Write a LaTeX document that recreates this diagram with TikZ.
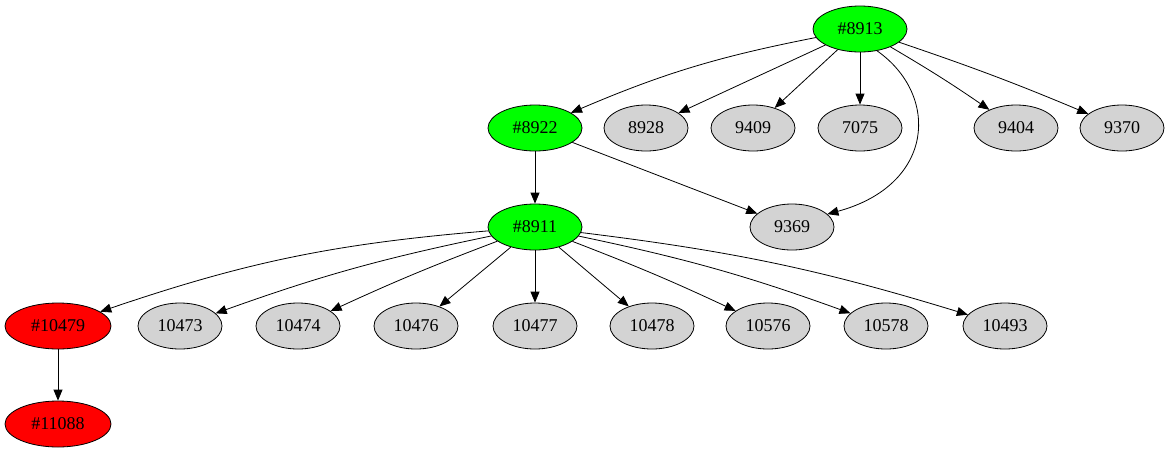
\documentclass[tikz,border=0pt]{standalone}
\usepackage{fontspec}
\setmainfont{Liberation Serif}
\usetikzlibrary{shapes.geometric,arrows.meta}
\tikzset{
  gnode/.style={ellipse,draw=black,line width=0.8pt,inner sep=0pt,minimum height=46pt,font=\fontsize{18}{21}\selectfont},
  gray/.style={gnode,fill={rgb,255:red,211;green,211;blue,211},minimum width=84pt},
  grn/.style={gnode,fill={rgb,255:red,0;green,255;blue,0},minimum width=94pt},
  rd/.style={gnode,fill={rgb,255:red,255;green,0;blue,0},minimum width=106pt},
  edge/.style={draw=black,line width=0.8pt,-{Triangle[length=11pt,width=9pt]}}
}
\begin{document}
\begin{tikzpicture}[x=1pt,y=-1pt]
\useasboundingbox (0,0) rectangle (1171,456);
\node[grn] (a8913) at (860,29) {\#8913};
\node[grn] (a8922) at (535,128) {\#8922};
\node[gray] (a8928) at (646,128) {8928};
\node[gray] (a9409) at (753,128) {9409};
\node[gray] (a7075) at (860,128) {7075};
\node[gray] (a9404) at (1016,128) {9404};
\node[gray] (a9370) at (1122,128) {9370};
\node[grn] (a8911) at (535,227) {\#8911};
\node[gray] (a9369) at (792,227) {9369};
\node[rd] (a10479) at (58,326) {\#10479};
\node[gray] (a10473) at (180,326) {10473};
\node[gray] (a10474) at (298,326) {10474};
\node[gray] (a10476) at (416,326) {10476};
\node[gray] (a10477) at (535,326) {10477};
\node[gray] (a10478) at (652,326) {10478};
\node[gray] (a10576) at (768,326) {10576};
\node[gray] (a10578) at (886,326) {10578};
\node[gray] (a10493) at (1005,326) {10493};
\node[rd] (a11088) at (58,424) {\#11088};

\draw[edge] (a8913) to[bend right=6] (a8922);
\draw[edge] (a8913) -- (a8928);
\draw[edge] (a8913) -- (a9409);
\draw[edge] (a8913) -- (a7075);
\draw[edge] (a8913.-52) .. controls (940,95) and (935,185) .. (a9369.20);
\draw[edge] (a8913) to[bend left=2] (a9404);
\draw[edge] (a8913) to[bend left=2] (a9370);
\draw[edge] (a8922) -- (a8911);
\draw[edge] (a8922) -- (a9369);
\draw[edge] (a8911) to[bend right=7] (a10479);
\draw[edge] (a8911) to[bend right=4] (a10473);
\draw[edge] (a8911) to[bend right=2] (a10474);
\draw[edge] (a8911) -- (a10476);
\draw[edge] (a8911) -- (a10477);
\draw[edge] (a8911) -- (a10478);
\draw[edge] (a8911) to[bend left=2] (a10576);
\draw[edge] (a8911) to[bend left=4] (a10578);
\draw[edge] (a8911) to[bend left=5] (a10493);
\draw[edge] (a10479) -- (a11088);
\end{tikzpicture}
\end{document}
